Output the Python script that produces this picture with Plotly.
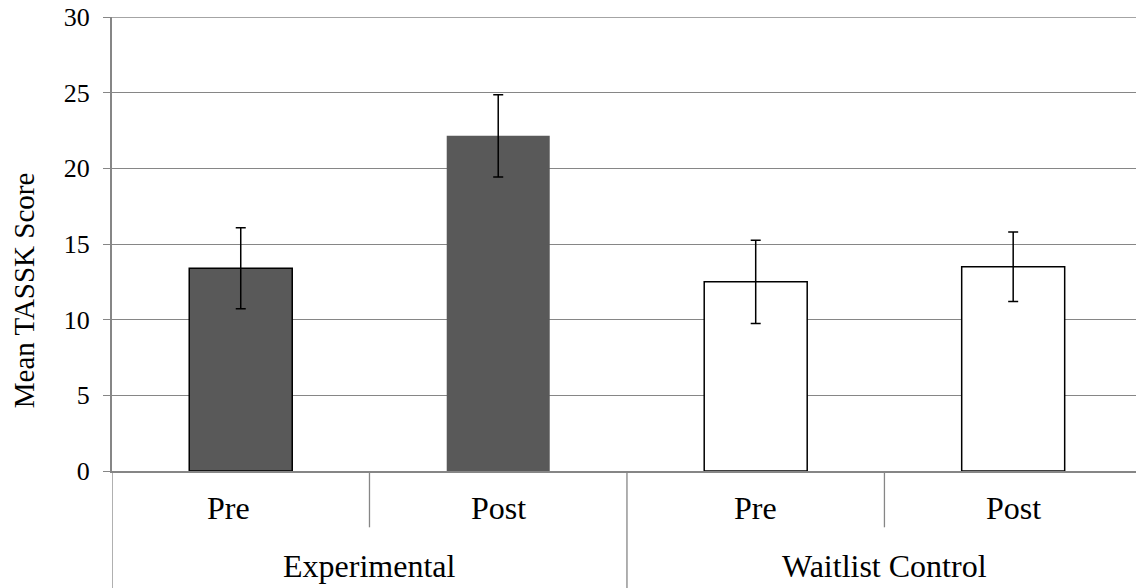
import plotly.graph_objects as go

groups = ["Experimental", "Experimental", "Waitlist Control", "Waitlist Control"]
conditions = ["Pre", "Post", "Pre", "Post"]
means = [13.4, 22.15, 12.5, 13.5]
errors = [2.68, 2.72, 2.75, 2.3]
bar_colors = ["#595959", "#595959", "#ffffff", "#ffffff"]
outline_widths = [1.5, 0, 1.5, 1.5]
y_ticks = [0, 5, 10, 15, 20, 25, 30]
y_title = "Mean TASSK Score"

cats = [f"{g} {c}" for g, c in zip(groups, conditions)]
FONT = "Liberation Serif, Times New Roman, serif"
GRAY = "#868686"

fig = go.Figure()
fig.add_trace(go.Bar(
    x=cats, y=means, width=0.4,
    marker=dict(color=bar_colors, line=dict(color="black", width=outline_widths)),
    error_y=dict(type="data", array=errors, visible=True, color="black",
                 thickness=1.5, width=5),
    showlegend=False,
))

# category labels (inner level)
label_shift = [-12, 0, 0, 0]
for c, cond, sh in zip(cats, conditions, label_shift):
    fig.add_annotation(x=c, y=-0.081, xref="x", yref="paper", text=cond,
                       showarrow=False, font=dict(family=FONT, size=32, color="black"),
                       yanchor="middle", xshift=sh)
# group labels (outer level)
group_names = []
for g in groups:
    if g not in group_names:
        group_names.append(g)
for i, g in enumerate(group_names):
    fig.add_annotation(x=i * 2 + 0.5, y=-0.21, xref="x", yref="paper", text=g,
                       showarrow=False, font=dict(family=FONT, size=32, color="black"),
                       yanchor="middle")

# y axis title
fig.add_annotation(x=-0.086, y=0.398, xref="paper", yref="paper", text=y_title,
                   textangle=-90, showarrow=False, xanchor="center", yanchor="middle",
                   font=dict(family=FONT, size=29, color="black"))

# dividers and top gridline
shapes = []
for xpos in [-0.5, 1.5]:
    shapes.append(dict(type="line", xref="x", yref="paper", x0=xpos, x1=xpos,
                       y0=0, y1=-0.28, line=dict(color=GRAY, width=1.3)))
for xpos in [0.5, 2.5]:
    shapes.append(dict(type="line", xref="x", yref="paper", x0=xpos, x1=xpos,
                       y0=0, y1=-0.124, line=dict(color=GRAY, width=1.3)))
shapes.append(dict(type="line", xref="paper", yref="y", x0=0, x1=1,
                   y0=max(y_ticks), y1=max(y_ticks), line=dict(color=GRAY, width=1.4),
                   layer="below"))
fig.update_layout(shapes=shapes)

fig.update_layout(
    width=1136, height=588,
    margin=dict(l=112, r=0, t=17, b=117, autoexpand=False),
    paper_bgcolor="white", plot_bgcolor="white",
    bargap=0.6,
    xaxis=dict(range=[-0.5, 3.477], showticklabels=False, ticks="",
               showline=True, linecolor=GRAY, linewidth=2, showgrid=False,
               zeroline=False, automargin=False),
    yaxis=dict(range=[0, 30], tickvals=y_ticks, showgrid=True, gridcolor=GRAY,
               gridwidth=1.4, showline=True, linecolor=GRAY, linewidth=2,
               ticks="outside", ticklen=7, tickcolor=GRAY, tickwidth=1.4,
               zeroline=False, automargin=False, ticklabelstandoff=8,
               ticklabeloverflow="allow",
               tickfont=dict(family=FONT, size=26, color="black")),
)

fig.write_html("out.html", config={"displayModeBar": False},
               post_script="document.body.style.margin='0';document.body.style.overflow='hidden';")
